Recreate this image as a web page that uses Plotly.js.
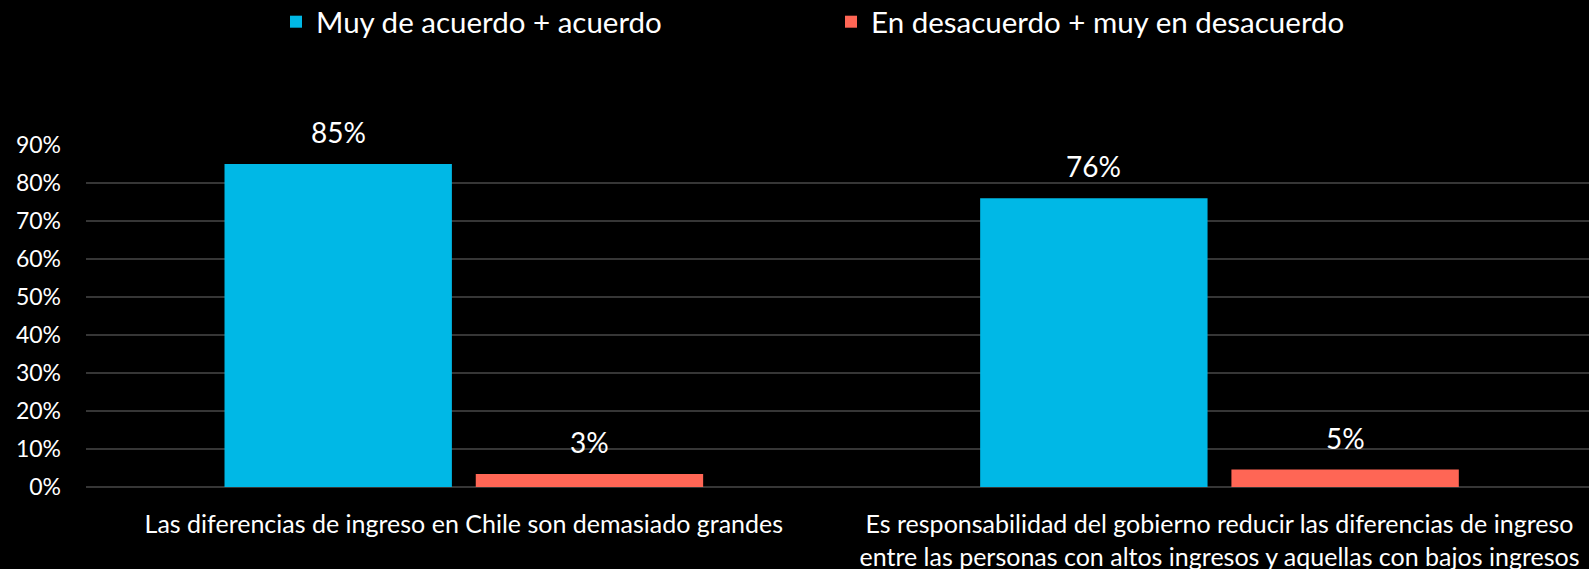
<!DOCTYPE html>
<html>
<head>
<meta charset="utf-8">
<script src="https://cdn.plot.ly/plotly-3.0.1.min.js"></script>
<style>html,body{margin:0;padding:0;background:#000;overflow:hidden;}</style>
</head>
<body>
<div id="chart" style="width:1589px;height:569px;"></div>
<script>
const categories = [
  "Las diferencias de ingreso en Chile son demasiado grandes",
  "Es responsabilidad del gobierno reducir las diferencias de ingreso<br>entre las personas con altos ingresos y aquellas con bajos ingresos"
];
const seriesNames = ["Muy de acuerdo + acuerdo", "En desacuerdo + muy en desacuerdo"];
const agreeValues = [85, 76];
const disagreeValues = [3.4, 4.6];
const yTickValues = [0, 10, 20, 30, 40, 50, 60, 70, 80, 90];

const FONT = "Lato, 'Open Sans', sans-serif";
const colors = ["#00B8E6", "#FF6655"];
const bargap = 0.335, bargroupgap = 0.095;

const traces = [
  {type: "bar", name: seriesNames[0], x: categories, y: agreeValues,
   marker: {color: colors[0]}, hoverinfo: "y"},
  {type: "bar", name: seriesNames[1], x: categories, y: disagreeValues,
   marker: {color: colors[1]}, hoverinfo: "y"}
];

// data labels placed via the category axis (half slot offset for grouped bars)
const slot = (1 - bargap) / 2;
const annotations = [];
[agreeValues, disagreeValues].forEach((vals, si) => {
  vals.forEach((v, ci) => {
    annotations.push({
      xref: "x", yref: "y", x: ci + (si === 0 ? -slot / 2 : slot / 2), y: v,
      text: Math.round(v) + "%", showarrow: false, yanchor: "bottom", yshift: 13,
      font: {family: FONT, size: 28, color: "#FFFFFF"}
    });
  });
});

const layout = {
  width: 1589, height: 569,
  paper_bgcolor: "#000000", plot_bgcolor: "#000000",
  margin: {l: 86, r: 0, t: 145, b: 82, autoexpand: false},
  barmode: "group", bargap: bargap, bargroupgap: bargroupgap,
  font: {family: FONT, color: "#FFFFFF"},
  showlegend: true,
  legend: {orientation: "h", xref: "container", yref: "container", x: 0.1737, y: 0.9613, xanchor: "left", yanchor: "middle",
           font: {family: FONT, size: 29.5, color: "#FFFFFF"}, entrywidth: 510, bgcolor: "rgba(0,0,0,0)"},
  xaxis: {type: "category", range: [-0.5, 1.489], tickfont: {family: FONT, size: 25, color: "#FFFFFF"},
          tickangle: 0, automargin: false,
          ticklabelstandoff: 20, showgrid: false, zeroline: false, showline: false, ticks: ""},
  yaxis: {range: [0, 90], tickvals: yTickValues, ticktext: yTickValues.map(v => v + "%"), automargin: false,
          tickfont: {family: FONT, size: 23, color: "#FFFFFF"}, ticklabelstandoff: 24,
          gridcolor: "#363636", gridwidth: 1.5, zeroline: true, zerolinecolor: "#363636", zerolinewidth: 1.5,
          showline: false, fixedrange: true},
  annotations: annotations
};

Plotly.newPlot("chart", traces, layout, {displayModeBar: false, staticPlot: true});
</script>
</body>
</html>
